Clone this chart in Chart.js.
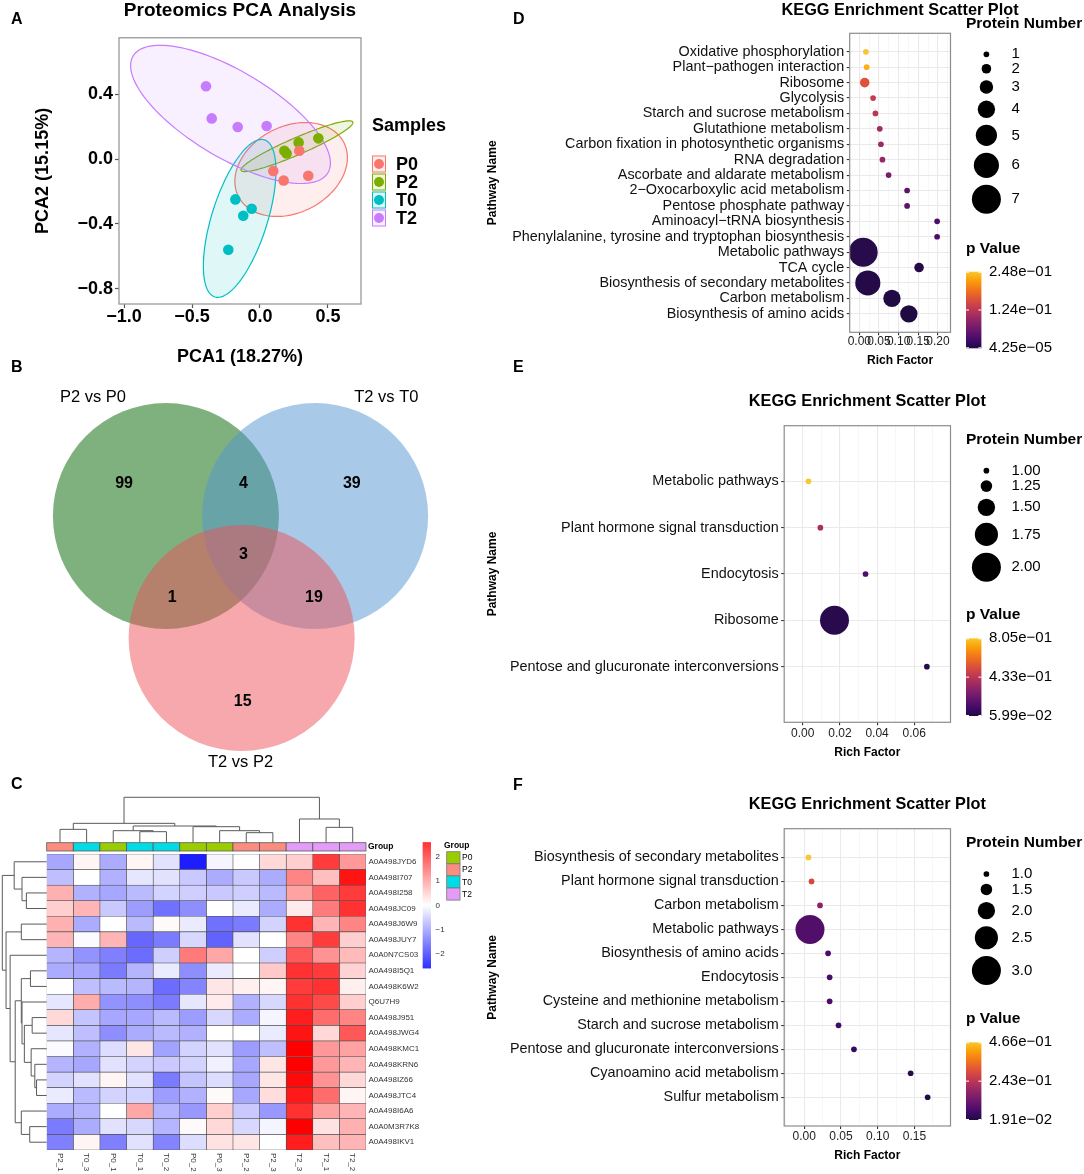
<!DOCTYPE html>
<html>
<head>
<meta charset="utf-8">
<title>Proteomics figure</title>
<script src="https://cdn.jsdelivr.net/npm/chart.js@4.4.1/dist/chart.umd.min.js"></script>
<style>
  body { margin: 0; width: 1084px; height: 1174px; position: relative; background: #fff; overflow: hidden; }
  canvas { position: absolute; }
  .tag { position: absolute; z-index: 2; font: bold 16px 'Liberation Sans', Arial, sans-serif; line-height: 16px; }
</style>
</head>
<body>
<canvas id="pca" width="480" height="370" style="left:0;top:0"></canvas>
<canvas id="venn" width="480" height="420" style="left:0;top:370px"></canvas>
<canvas id="heat" width="480" height="384" style="left:0;top:790px"></canvas>
<canvas id="keggD" width="604" height="370" style="left:480px;top:0"></canvas>
<canvas id="keggE" width="604" height="390" style="left:480px;top:380px"></canvas>
<canvas id="keggF" width="604" height="384" style="left:480px;top:790px"></canvas>
<div class="tag" style="left:11px;top:11px">A</div>
<div class="tag" style="left:11px;top:359px">B</div>
<div class="tag" style="left:11px;top:776px">C</div>
<div class="tag" style="left:513px;top:11px">D</div>
<div class="tag" style="left:513px;top:359px">E</div>
<div class="tag" style="left:513px;top:777px">F</div>
<script>
// ---------- A: PCA ----------
const pcaGroups = ['P0', 'P2', 'T0', 'T2'];
const pcaColors = ['#F8766D', '#7CAE00', '#00BFC4', '#C77CFF'];
const p0Pc1 = [0.289, 0.098, 0.174, 0.355];
const p0Pc2 = [0.051, -0.074, -0.132, -0.103];
const p2Pc1 = [0.179, 0.196, 0.284, 0.429];
const p2Pc2 = [0.051, 0.035, 0.103, 0.128];
const t0Pc1 = [-0.181, -0.061, -0.123, -0.233];
const t0Pc2 = [-0.249, -0.307, -0.350, -0.560];
const t2Pc1 = [-0.397, -0.355, -0.164, 0.049];
const t2Pc2 = [0.450, 0.251, 0.198, 0.204];
const pcaXTicks = [-1.0, -0.5, 0.0, 0.5];
const pcaYTicks = [-0.8, -0.4, 0.0, 0.4];

// ---------- B: Venn ----------
const vennSets = ['P2 vs P0', 'T2 vs T0', 'T2 vs P2'];
const vennCounts = [99, 4, 39, 3, 1, 19, 15];

// ---------- C: heatmap ----------
const heatRows = ['A0A498JYD6', 'A0A498I707', 'A0A498I258', 'A0A498JC09', 'A0A498J6W9', 'A0A498JUY7',
  'A0A0N7CS03', 'A0A498I5Q1', 'A0A498K6W2', 'Q6U7H9', 'A0A498J951', 'A0A498JWG4', 'A0A498KMC1',
  'A0A498KRN6', 'A0A498IZ66', 'A0A498JTC4', 'A0A498I6A6', 'A0A0M3R7K8', 'A0A498IKV1'];
const heatCols = ['P2_1', 'T0_3', 'P0_1', 'T0_1', 'T0_2', 'P0_2', 'P0_3', 'P2_2', 'P2_3', 'T2_3', 'T2_1', 'T2_2'];
const heatColGroups = ['P2', 'T0', 'P0', 'T0', 'T0', 'P0', 'P0', 'P2', 'P2', 'T2', 'T2', 'T2'];
const heatValues = [
  [-0.9, 0.1, -0.85, 0.1, -0.3, -2.3, -0.1, 0, 0.4, 0.5, 2.0, 1.05],
  [-0.65, 0, -0.8, -0.25, -0.3, -0.55, -0.85, -0.55, -0.85, 1.25, 0.65, 2.4],
  [0.8, -0.8, -0.9, -0.7, -0.45, -0.5, -0.55, -0.5, -0.7, 0.95, 1.6, 2.0],
  [0.5, 0.75, -0.55, -1.0, -1.45, -1.15, 0, -0.2, -0.85, 0.2, 1.35, 2.1],
  [0.8, -0.85, 0, -0.7, 0.05, -0.2, -1.45, -1.35, -0.45, 2.1, 0.75, 1.25],
  [0.75, -0.05, 0.75, -1.55, -1.35, -0.4, -1.6, -0.3, 0, 1.25, 2.0, 0.5],
  [-0.75, -1.1, -1.3, -1.5, -0.5, 1.35, 0.9, 0, -0.5, 1.7, 1.1, 0.7],
  [-0.85, -0.9, -1.35, -0.75, -0.2, -1.15, -0.2, 0, 0.55, 2.1, 2.0, 0.45],
  [0, -0.65, -0.7, -0.75, -1.5, -1.25, 0.25, 0.15, 0.1, 2.0, 2.1, 0.15],
  [-0.25, 0.85, -1.1, -1.15, -1.35, -0.25, 0.2, -0.8, -0.4, 2.1, 1.85, 0.5],
  [0.4, -0.6, -0.9, -0.9, -0.7, -1.0, -0.4, -0.85, -0.1, 2.3, 1.5, 1.25],
  [-0.25, -0.65, -1.15, -0.85, -0.7, -0.8, 0, 0, -0.2, 2.4, 0.4, 1.7],
  [-0.05, -0.8, -0.35, 0.25, -0.95, -0.45, -0.3, -1.0, -0.65, 2.6, 1.05, 0.95],
  [-0.75, -0.9, -0.3, -0.45, -0.55, -0.45, -0.15, -0.9, 0.25, 2.6, 1.05, 0.75],
  [-0.45, -0.3, 0.1, -0.3, -1.35, -0.6, -0.35, -0.9, 0.25, 2.5, 1.1, 0.4],
  [-0.2, -0.7, -0.45, -0.45, -1.0, -0.8, 0.05, -0.9, 0.35, 2.35, 1.5, 0.1],
  [-0.85, -0.75, 0, 0.9, -0.75, -1.05, 0.5, -0.55, -1.05, 2.1, 0.95, 0.75],
  [-1.35, -0.85, -0.3, -0.4, -0.75, 0.05, 0.4, -0.4, -0.1, 2.6, 0.3, 0.8],
  [-1.3, 0.1, -1.3, -0.3, -1.25, -0.35, 0.3, 0.25, 0, 2.3, 0.65, 0.75]
];
// hclust merges: [height, left, right], leaves are row / column indices
const rowTree = [43.7, [32, 0, [24.3, 1, [20, 2, 3]]],
  [40, [25, 4, 5], [36, 6, [31, [25, [16, 7, 8], [24.3, 9, [22, [14.3, 10, 11], [15.3, 12, [11.7, 13, [10, 14, 15]]]]]],
    [25, 16, [16.7, 17, 18]]]]]];
const colTree = [136, [58, [40, 0, 1], [50, [36, 2, [33, 3, 4]], [48, 5, [36, 6, [30, 7, 8]]]]], [71, 9, [46, 10, 11]]];
const heatGroupNames = ['P0', 'P2', 'T0', 'T2'];
const heatGroupColors = ['#9ACD00', '#FA8C80', '#00DCE6', '#E39CF7'];
const heatLegendTicks = [2, 1, 0, -1, -2];

// ---------- D: KEGG P2 vs P0 ----------
const dNames = ['Oxidative phosphorylation', 'Plant\u2212pathogen interaction', 'Ribosome', 'Glycolysis',
  'Starch and sucrose metabolism', 'Glutathione metabolism', 'Carbon fixation in photosynthetic organisms',
  'RNA degradation', 'Ascorbate and aldarate metabolism', '2\u2212Oxocarboxylic acid metabolism',
  'Pentose phosphate pathway', 'Aminoacyl\u2212tRNA biosynthesis', 'Phenylalanine, tyrosine and tryptophan biosynthesis',
  'Metabolic pathways', 'TCA cycle', 'Biosynthesis of secondary metabolites', 'Carbon metabolism',
  'Biosynthesis of amino acids'];
const dRich = [0.0167, 0.0186, 0.0137, 0.035, 0.041, 0.052, 0.055, 0.0588, 0.0745, 0.1216, 0.1216, 0.198, 0.198,
  0.0098, 0.152, 0.0216, 0.083, 0.126];
const dCount = [1, 1, 2, 1, 1, 1, 1, 1, 1, 1, 1, 1, 1, 7, 2, 6, 4, 4];
const dPval = [0.246, 0.232, 0.16, 0.132, 0.125, 0.105, 0.1, 0.095, 0.072, 0.048, 0.048, 0.035, 0.035,
  0.006, 0.004, 0.004, 0.001, 0.00004];
const dXMajor = [0, 0.05, 0.1, 0.15, 0.2];
const dXMinor = [0.025, 0.075, 0.125, 0.175, 0.225];
const dSizes = [1, 2, 3, 4, 5, 6, 7];
const dPLabels = ['2.48e\u221201', '1.24e\u221201', '4.25e\u221205'];

// ---------- E: KEGG T2 vs T0 ----------
const eNames = ['Metabolic pathways', 'Plant hormone signal transduction', 'Endocytosis', 'Ribosome',
  'Pentose and glucuronate interconversions'];
const eRich = [0.0031, 0.0095, 0.0338, 0.0171, 0.0668];
const eCount = [1, 1, 1, 2, 1];
const ePval = [0.805, 0.395, 0.17, 0.082, 0.08];
const eXMajor = [0, 0.02, 0.04, 0.06];
const eXMinor = [0.01, 0.03, 0.05, 0.07];
const eSizes = [1, 1.25, 1.5, 1.75, 2];
const ePLabels = ['8.05e\u221201', '4.33e\u221201', '5.99e\u221202'];

// ---------- F: KEGG T2 vs P2 ----------
const fNames = ['Biosynthesis of secondary metabolites', 'Plant hormone signal transduction', 'Carbon metabolism',
  'Metabolic pathways', 'Biosynthesis of amino acids', 'Endocytosis', 'Cysteine and methionine metabolism',
  'Starch and sucrose metabolism', 'Pentose and glucuronate interconversions', 'Cyanoamino acid metabolism',
  'Sulfur metabolism'];
const fRich = [0.0058, 0.010, 0.0215, 0.0079, 0.0325, 0.0346, 0.0346, 0.0467, 0.0677, 0.1448, 0.1679];
const fCount = [1, 1, 1, 3, 1, 1, 1, 1, 1, 1, 1];
const fPval = [0.466, 0.287, 0.175, 0.09, 0.077, 0.077, 0.08, 0.065, 0.05, 0.03, 0.025];
const fXMajor = [0, 0.05, 0.1, 0.15];
const fXMinor = [-0.025, 0.025, 0.075, 0.125, 0.175];
const fSizes = [1, 1.5, 2, 2.5, 3];
const fPLabels = ['4.66e\u221201', '2.43e\u221201', '1.91e\u221202'];

const FONT = "'Liberation Sans', Arial, sans-serif";
Chart.defaults.font.family = FONT;
Chart.defaults.color = '#000';
Chart.defaults.animation = false;
Chart.defaults.events = [];
Chart.defaults.responsive = false;
Chart.defaults.maintainAspectRatio = false;
Chart.defaults.plugins.legend.display = false;
Chart.defaults.plugins.tooltip.enabled = false;

function rgba(hex, a) {
  const n = parseInt(hex.slice(1), 16);
  return 'rgba(' + (n >> 16) + ',' + ((n >> 8) & 255) + ',' + (n & 255) + ',' + a + ')';
}

// ====== A: PCA scatter with confidence ellipses ======
const pcaSets = [[p0Pc1, p0Pc2], [p2Pc1, p2Pc2], [t0Pc1, t0Pc2], [t2Pc1, t2Pc2]];
const signed = (v, d) => (v < 0 ? '\u2212' : '') + Math.abs(v).toFixed(d);

function ellipse(xs, ys, k) {
  const n = xs.length;
  const mx = xs.reduce((a, b) => a + b) / n, my = ys.reduce((a, b) => a + b) / n;
  let sxx = 0, syy = 0, sxy = 0;
  for (let i = 0; i < n; i++) {
    sxx += (xs[i] - mx) ** 2; syy += (ys[i] - my) ** 2; sxy += (xs[i] - mx) * (ys[i] - my);
  }
  sxx /= n - 1; syy /= n - 1; sxy /= n - 1;
  const tr = (sxx + syy) / 2, d = Math.sqrt(((sxx - syy) / 2) ** 2 + sxy ** 2);
  const a1 = k * Math.sqrt(tr + d), a2 = k * Math.sqrt(Math.max(tr - d, 0));
  const th = 0.5 * Math.atan2(2 * sxy, sxx - syy);
  const pts = [];
  for (let i = 0; i <= 120; i++) {
    const t = i / 120 * 2 * Math.PI;
    const u = a1 * Math.cos(t), v = a2 * Math.sin(t);
    pts.push([mx + u * Math.cos(th) - v * Math.sin(th), my + u * Math.sin(th) + v * Math.cos(th)]);
  }
  return pts;
}

const pcaPlugin = {
  id: 'pcaExtras',
  beforeDatasetsDraw(chart) {
    const {ctx, scales: {x, y}} = chart;
    pcaSets.forEach(([xs, ys], g) => {
      ctx.save();
      ctx.beginPath();
      ellipse(xs, ys, 3.6).forEach(([px, py], i) => {
        const X = x.getPixelForValue(px), Y = y.getPixelForValue(py);
        if (i) ctx.lineTo(X, Y); else ctx.moveTo(X, Y);
      });
      ctx.closePath();
      ctx.fillStyle = rgba(pcaColors[g], 0.12);
      ctx.fill();
      ctx.strokeStyle = pcaColors[g];
      ctx.lineWidth = 1.2;
      ctx.stroke();
      ctx.restore();
    });
  },
  afterDraw(chart) {
    const {ctx, chartArea: a} = chart;
    ctx.save();
    ctx.strokeStyle = '#9a9a9a';
    ctx.lineWidth = 1.3;
    ctx.strokeRect(a.left, a.top, a.right - a.left, a.bottom - a.top);
    ctx.fillStyle = '#000';
    ctx.textBaseline = 'middle';
    ctx.font = 'bold 18px ' + FONT;
    ctx.fillText('Samples', 372, 126);
    pcaGroups.forEach((g, i) => {
      const top = 155.5 + i * 18;
      ctx.fillStyle = rgba(pcaColors[i], 0.12);
      ctx.fillRect(372, top, 14, 17);
      ctx.strokeStyle = pcaColors[i];
      ctx.lineWidth = 1;
      ctx.strokeRect(372.5, top + 0.5, 13, 16);
      ctx.beginPath();
      ctx.arc(379, top + 8.5, 5, 0, 2 * Math.PI);
      ctx.fillStyle = pcaColors[i];
      ctx.fill();
      ctx.fillStyle = '#000';
      ctx.fillText(g, 396, top + 9.5);
    });
    ctx.restore();
  }
};

new Chart(document.getElementById('pca'), {
  type: 'scatter',
  data: {
    datasets: pcaGroups.map((g, i) => ({
      label: g,
      data: pcaSets[i][0].map((v, k) => ({x: v, y: pcaSets[i][1][k]})),
      pointRadius: 5.3,
      pointBackgroundColor: pcaColors[i],
      pointBorderWidth: 0
    }))
  },
  options: {
    layout: {padding: {left: 28, top: 0, right: 119, bottom: 0}},
    plugins: {
      title: {display: true, text: 'Proteomics PCA Analysis', fullSize: false, color: '#000',
        font: {size: 19, weight: 'bold', lineHeight: 1.14}, padding: {top: 0, bottom: 16.1}}
    },
    scales: {
      x: {
        type: 'linear', min: -1.037, max: 0.743,
        afterBuildTicks: s => { s.ticks = pcaXTicks.map(v => ({value: v})); },
        afterFit: s => { s.height = 66; },
        grid: {drawOnChartArea: false, tickLength: 4, tickColor: '#555', tickWidth: 1.2},
        border: {display: false},
        ticks: {font: {size: 18, weight: 'bold', lineHeight: 1}, color: '#000', padding: 0, maxRotation: 0,
          autoSkip: false, callback: v => signed(v, 1)},
        title: {display: true, text: 'PCA1 (18.27%)', color: '#000', font: {size: 18, weight: 'bold'},
          padding: {top: 0, bottom: 2.2}}
      },
      y: {
        type: 'linear', min: -0.895, max: 0.749,
        afterBuildTicks: s => { s.ticks = pcaYTicks.map(v => ({value: v})); },
        afterFit: s => { s.width = 91; },
        grid: {drawOnChartArea: false, tickLength: 4, tickColor: '#555', tickWidth: 1.2},
        border: {display: false},
        ticks: {font: {size: 18, weight: 'bold'}, color: '#000', padding: 2, autoSkip: false,
          callback: v => signed(v, 1)},
        title: {display: true, text: 'PCA2 (15.15%)', color: '#000', font: {size: 18, weight: 'bold'},
          padding: {top: 4, bottom: 0}}
      }
    }
  },
  plugins: [pcaPlugin]
});

// ====== B: Venn diagram (circles on a unit-radius layout) ======
const vennCx = [-0.66, 0.66, 0.01];
const vennCy = [0.54, 0.54, -0.54];
const vennFill = ['rgba(0,100,0,0.5)', 'rgba(81,149,209,0.5)', 'rgba(237,81,89,0.5)'];
const vennNameX = [-1.305, 1.29, 0];
const vennNameY = [1.585, 1.585, -1.64];
const vennCountX = [-1.03, 0.025, 0.985, 0.025, -0.605, 0.65, 0.02];
const vennCountY = [0.83, 0.83, 0.83, 0.2, -0.18, -0.18, -1.10];

new Chart(document.getElementById('venn'), {
  type: 'scatter',
  data: {
    datasets: [{
      data: vennCx.map((v, i) => ({x: v, y: vennCy[i]})),
      pointRadius: c => c.chart.scales.x.getPixelForValue(1) - c.chart.scales.x.getPixelForValue(0),
      pointBackgroundColor: vennFill,
      pointBorderWidth: 0,
      clip: false
    }]
  },
  options: {
    layout: {padding: 0},
    scales: {
      x: {type: 'linear', display: false, min: -2.128, max: 2.119},
      y: {type: 'linear', display: false, min: -1.885, max: 1.832}
    }
  },
  plugins: [{
    id: 'vennText',
    afterDatasetsDraw(chart) {
      const {ctx, scales: {x, y}} = chart;
      ctx.save();
      ctx.fillStyle = '#000';
      ctx.textAlign = 'center';
      ctx.textBaseline = 'middle';
      ctx.font = '16.5px ' + FONT;
      vennSets.forEach((s, i) => ctx.fillText(s, x.getPixelForValue(vennNameX[i]), y.getPixelForValue(vennNameY[i])));
      ctx.font = 'bold 16px ' + FONT;
      vennCounts.forEach((c, i) => ctx.fillText(String(c), x.getPixelForValue(vennCountX[i]), y.getPixelForValue(vennCountY[i])));
      ctx.restore();
    }
  }]
});

// ====== C: clustered heatmap (stacked horizontal bars as cells) ======
const HEAT_LIM = 2.6;
function heatColor(v) {
  const t = Math.max(-1, Math.min(1, v / HEAT_LIM));
  if (t < 0) { const c = Math.round(255 * (1 + t)); return 'rgb(' + c + ',' + c + ',255)'; }
  const c = Math.round(255 * (1 - t));
  return 'rgb(255,' + c + ',' + c + ')';
}

function drawTree(ctx, tree, leafPos, depthPx) {
  const walk = node => {
    if (typeof node === 'number') return {p: leafPos(node), h: 0};
    const [h, l, r] = node;
    const A = walk(l), B = walk(r);
    ctx.beginPath();
    depthPx(A.p, A.h, true); depthPx(A.p, h);
    depthPx(B.p, h); depthPx(B.p, B.h);
    ctx.stroke();
    return {p: (A.p + B.p) / 2, h};
  };
  walk(tree);
}

const heatPlugin = {
  id: 'heatExtras',
  afterDraw(chart) {
    const {ctx, chartArea: a, scales: {x, y}} = chart;
    ctx.save();
    ctx.strokeStyle = '#5a5a5a';
    ctx.lineWidth = 1;
    // column dendrogram
    const colBase = 52.7, colScale = 45.4 / colTree[0];
    drawTree(ctx, colTree, j => x.getPixelForValue(j + 0.5), (p, h, first) => {
      const Y = colBase - h * colScale;
      if (first) ctx.moveTo(p, Y); else ctx.lineTo(p, Y);
    });
    // row dendrogram
    const rowScale = (a.left - 2.3) / rowTree[0];
    drawTree(ctx, rowTree, i => y.getPixelForValue(i), (p, h, first) => {
      const X = a.left - h * rowScale;
      if (first) ctx.moveTo(X, p); else ctx.lineTo(X, p);
    });
    // group annotation bar
    heatColGroups.forEach((g, j) => {
      const x0 = x.getPixelForValue(j), x1 = x.getPixelForValue(j + 1);
      ctx.fillStyle = heatGroupColors[heatGroupNames.indexOf(g)];
      ctx.fillRect(x0, 52.7, x1 - x0, 8.3);
      ctx.strokeStyle = '#5a5a5a';
      ctx.lineWidth = 0.8;
      ctx.strokeRect(x0, 52.7, x1 - x0, 8.3);
    });
    ctx.fillStyle = '#000';
    ctx.textBaseline = 'middle';
    ctx.font = 'bold 8.5px ' + FONT;
    ctx.fillText('Group', a.right + 2, 57);
    // column labels, rotated
    ctx.font = '8px ' + FONT;
    ctx.fillStyle = '#333';
    heatCols.forEach((c, j) => {
      ctx.save();
      ctx.translate(x.getPixelForValue(j + 0.5), a.bottom + 3);
      ctx.rotate(Math.PI / 2);
      ctx.textAlign = 'left';
      ctx.fillText(c, 0, 0);
      ctx.restore();
    });
    // colour key
    const kTop = 52.3, kBot = 178.3, kx = 422.7;
    const keyY = v => kTop + (HEAT_LIM - v) / (2 * HEAT_LIM) * (kBot - kTop);
    for (let py = kTop; py < kBot; py += 1) {
      ctx.fillStyle = heatColor(HEAT_LIM - (py + 0.5 - kTop) / (kBot - kTop) * 2 * HEAT_LIM);
      ctx.fillRect(kx, py, 8.3, 1.05);
    }
    ctx.fillStyle = '#333';
    heatLegendTicks.forEach(v => ctx.fillText(String(v).replace('-', '\u2212'), 435.5, keyY(v)));
    // group legend
    ctx.fillStyle = '#000';
    ctx.font = 'bold 8.5px ' + FONT;
    ctx.fillText('Group', 444, 56);
    ctx.font = '8.5px ' + FONT;
    heatGroupNames.forEach((g, i) => {
      const t = 61.7 + i * 12.1;
      ctx.fillStyle = heatGroupColors[i];
      ctx.fillRect(446.7, t, 13.3, 12.1);
      ctx.strokeStyle = '#777';
      ctx.lineWidth = 0.8;
      ctx.strokeRect(446.7, t, 13.3, 12.1);
      ctx.fillStyle = '#000';
      ctx.fillText(g, 462, t + 6.3);
    });
    ctx.restore();
  }
};

new Chart(document.getElementById('heat'), {
  type: 'bar',
  data: {
    labels: heatRows,
    datasets: heatCols.map((c, j) => ({
      label: c,
      data: heatRows.map(() => 1),
      backgroundColor: heatRows.map((r, i) => heatColor(heatValues[i][j])),
      borderColor: '#4d4d4d',
      borderWidth: 0.6,
      borderSkipped: false,
      barPercentage: 1,
      categoryPercentage: 1
    }))
  },
  options: {
    indexAxis: 'y',
    layout: {padding: {left: 46.7, top: 64, right: 0, bottom: 24}},
    scales: {
      x: {type: 'linear', stacked: true, min: 0, max: 12, display: false},
      y: {
        type: 'category', stacked: true, position: 'right',
        afterFit: s => { s.width = 114; },
        grid: {display: false, drawTicks: false},
        border: {display: false},
        ticks: {font: {size: 8}, color: '#333', padding: 2.5, autoSkip: false}
      }
    }
  },
  plugins: [heatPlugin]
});

// ====== D / E / F: KEGG enrichment bubble plots ======
const infernoStops = [[0, 0, 4], [22, 11, 57], [66, 10, 104], [106, 23, 110], [147, 38, 103], [188, 55, 84],
  [221, 81, 58], [243, 120, 25], [252, 165, 10], [246, 215, 70], [252, 255, 164]];
function inferno(u) {
  const f = Math.max(0, Math.min(1, u)) * 10, i = Math.min(9, Math.floor(f)), t = f - i;
  const c = infernoStops[i].map((v, k) => Math.round(v + (infernoStops[i + 1][k] - v) * t));
  return 'rgb(' + c.join(',') + ')';
}
const pColor = (p, lo, hi) => inferno(0.12 + 0.75 * Math.max(0, Math.min(1, (p - lo) / (hi - lo))));
const bubbleDiam = (n, sizes) => 5.7 + (29 - 5.7) * (n - sizes[0]) / (sizes[sizes.length - 1] - sizes[0]);

const keggPlugin = {
  id: 'keggExtras',
  afterDraw(chart, args, o) {
    const {ctx, chartArea: a} = chart;
    ctx.save();
    ctx.strokeStyle = '#8c8c8c';
    ctx.lineWidth = 1.2;
    ctx.strokeRect(a.left, a.top, a.right - a.left, a.bottom - a.top);
    ctx.fillStyle = '#000';
    ctx.textBaseline = 'middle';
    ctx.textAlign = 'center';
    ctx.font = 'bold 16.3px ' + FONT;
    ctx.fillText('KEGG Enrichment Scatter Plot', (a.left + a.right) / 2, o.titleY);
    ctx.textAlign = 'left';
    ctx.font = 'bold 15.5px ' + FONT;
    ctx.fillText('Protein Number', 486, o.sizeTitleY);
    let cy = o.firstKeyY;
    o.sizes.forEach((n, i) => {
      const d = bubbleDiam(n, o.sizes);
      if (i) cy += (bubbleDiam(o.sizes[i - 1], o.sizes) + d) / 2 + 6.8;
      ctx.beginPath();
      ctx.arc(506.4, cy, d / 2, 0, 2 * Math.PI);
      ctx.fillStyle = '#000';
      ctx.fill();
      ctx.font = '15px ' + FONT;
      ctx.fillText(n.toFixed(o.sizeDigits), 531.4, cy);
    });
    ctx.font = 'bold 15.5px ' + FONT;
    ctx.fillText('p Value', 486, o.pTitleY);
    const g = ctx.createLinearGradient(0, o.barTop, 0, o.barBottom);
    for (let i = 0; i <= 20; i++) {
      g.addColorStop(i / 20, pColor(o.pMax - (o.pMax - o.pMin) * i / 20, o.pMin, o.pMax));
    }
    ctx.fillStyle = g;
    ctx.fillRect(486, o.barTop, 15.4, o.barBottom - o.barTop);
    ctx.strokeStyle = '#fff';
    ctx.lineWidth = 1;
    ctx.font = '15px ' + FONT;
    o.pLabels.forEach((lab, i) => {
      const ty = o.barTop + (o.barBottom - o.barTop) * i / (o.pLabels.length - 1);
      const yy = Math.min(Math.max(ty, o.barTop + 0.5), o.barBottom - 0.5);
      ctx.beginPath();
      ctx.moveTo(486, yy); ctx.lineTo(489, yy);
      ctx.moveTo(498.4, yy); ctx.lineTo(501.4, yy);
      ctx.stroke();
      ctx.fillStyle = '#000';
      ctx.fillText(lab, 509, ty);
    });
    ctx.restore();
  }
};

function keggChart(id, names, rich, count, pval, cfg) {
  const xTicks = cfg.major.map(v => ({value: v})).concat(cfg.minor.map(v => ({value: v, minor: true})))
    .sort((p, q) => p.value - q.value);
  return new Chart(document.getElementById(id), {
    type: 'bubble',
    data: {
      datasets: [{
        data: names.map((nm, i) => ({x: rich[i], y: i + 1, r: bubbleDiam(count[i], cfg.legend.sizes) / 2})),
        backgroundColor: c => pColor(pval[c.dataIndex], cfg.legend.pMin, cfg.legend.pMax),
        borderWidth: 0
      }]
    },
    options: {
      layout: {padding: {left: 0, top: cfg.top, right: 604 - cfg.right, bottom: 0}},
      plugins: {keggExtras: cfg.legend},
      scales: {
        x: {
          type: 'linear', min: cfg.xMin, max: cfg.xMax,
          afterBuildTicks: s => { s.ticks = xTicks.map(t => Object.assign({}, t)); },
          afterFit: s => { s.height = cfg.xAxisH; },
          grid: {
            color: c => (c.tick && c.tick.minor ? '#F4F4F4' : '#EAEAEA'),
            lineWidth: c => (c.tick && c.tick.minor ? 0.7 : 1.1),
            tickColor: c => (c.tick && c.tick.minor ? 'rgba(0,0,0,0)' : '#333'),
            tickLength: 3
          },
          border: {display: false},
          ticks: {font: {size: 12, lineHeight: 1}, color: '#222', padding: cfg.tickPad, maxRotation: 0, minRotation: 0,
            autoSkip: false, callback: (v, i, ts) => (ts[i].minor ? '' : v.toFixed(2))},
          title: {display: true, text: 'Rich Factor', color: '#000', font: {size: 12, weight: 'bold'},
            padding: {top: 0, bottom: cfg.xTitlePad}}
        },
        y: {
          type: 'linear', reverse: true, min: -0.2, max: names.length + 1.2,
          afterBuildTicks: s => { s.ticks = names.map((nm, i) => ({value: i + 1})); },
          afterFit: s => { s.width = cfg.left; },
          grid: {color: '#EAEAEA', lineWidth: 1.1, tickColor: '#333', tickLength: 3},
          border: {display: false},
          ticks: {font: {size: 14.4}, color: '#111', padding: 2.5, autoSkip: false, callback: v => names[v - 1]},
          title: {display: true, text: 'Pathway Name', color: '#000', font: {size: 12, weight: 'bold'},
            padding: {top: 5.5, bottom: 0}}
        }
      }
    },
    plugins: [keggPlugin]
  });
}

keggChart('keggD', dNames, dRich, dCount, dPval, {
  left: 369.7, right: 470.5, top: 33.3, xMin: -0.0245, xMax: 0.232, major: dXMajor, minor: dXMinor,
  xAxisH: 37.7, tickPad: 0, xTitlePad: 1.8,
  legend: {titleY: 10.3, sizes: dSizes, sizeDigits: 0, sizeTitleY: 23.3, firstKeyY: 54.3, pTitleY: 248.3,
    barTop: 271.7, barBottom: 348.3, pMin: 0.0000425, pMax: 0.248, pLabels: dPLabels}
});

keggChart('keggE', eNames, eRich, eCount, ePval, {
  left: 304.2, right: 470.5, top: 45.7, xMin: -0.00995, xMax: 0.0795, major: eXMajor, minor: eXMinor,
  xAxisH: 47.7, tickPad: 2, xTitlePad: 10.5,
  legend: {titleY: 21.7, sizes: eSizes, sizeDigits: 2, sizeTitleY: 60, firstKeyY: 90.7, pTitleY: 235,
    barTop: 258.3, barBottom: 336, pMin: 0.0599, pMax: 0.805, pLabels: ePLabels}
});

keggChart('keggF', fNames, fRich, fCount, fPval, {
  left: 304.2, right: 470.5, top: 38.7, xMin: -0.0272, xMax: 0.199, major: fXMajor, minor: fXMinor,
  xAxisH: 48, tickPad: 1.7, xTitlePad: 11.1,
  legend: {titleY: 15, sizes: fSizes, sizeDigits: 1, sizeTitleY: 52.7, firstKeyY: 84, pTitleY: 228.3,
    barTop: 252.3, barBottom: 330, pMin: 0.0191, pMax: 0.466, pLabels: fPLabels}
});
</script>
</body>
</html>
